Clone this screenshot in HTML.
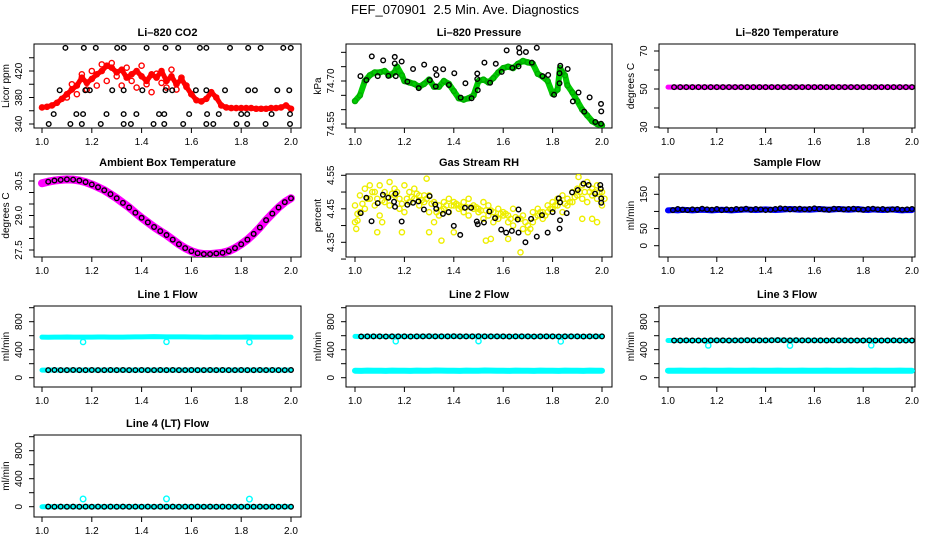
<!DOCTYPE html>
<html><head><meta charset="utf-8"><style>
html,body{margin:0;padding:0;background:#fff;}
svg{display:block;font-family:"Liberation Sans",sans-serif;}
</style></head><body>
<svg id="chart" width="936" height="540" viewBox="0 0 936 540">
<text x="465" y="14" font-size="13" text-anchor="middle" style="white-space:pre">FEF_070901  2.5 Min. Ave. Diagnostics</text>
</svg>
<script>
// ---- data ----
const xTicks = [1.0,1.2,1.4,1.6,1.8,2.0];
const xTickLabels = ["1.0","1.2","1.4","1.6","1.8","2.0"];
const grid51 = [1.00,1.02,1.04,1.06,1.08,1.10,1.12,1.14,1.16,1.18,1.20,1.22,1.24,1.26,1.28,1.30,1.32,1.34,1.36,1.38,1.40,1.42,1.44,1.46,1.48,1.50,1.52,1.54,1.56,1.58,1.60,1.62,1.64,1.66,1.68,1.70,1.72,1.74,1.76,1.78,1.80,1.82,1.84,1.86,1.88,1.90,1.92,1.94,1.96,1.98,2.00];
const grid41 = [1.000,1.025,1.050,1.075,1.100,1.125,1.150,1.175,1.200,1.225,1.250,1.275,1.300,1.325,1.350,1.375,1.400,1.425,1.450,1.475,1.500,1.525,1.550,1.575,1.600,1.625,1.650,1.675,1.700,1.725,1.750,1.775,1.800,1.825,1.850,1.875,1.900,1.925,1.950,1.975,2.000];
// CO2
const co2Red = [365,366,368,372,378,385,392,398,410,402,408,415,420,428,425,418,422,410,415,420,412,405,415,410,420,405,412,400,408,396,385,376,374,378,388,380,368,365,364,364,364,364,364,363,363,363,364,364,365,368,363];
const co2RedBX = [1.10,1.12,1.14,1.16,1.18,1.20,1.22,1.24,1.26,1.28,1.30,1.32,1.34,1.36,1.38,1.40,1.42,1.44,1.46,1.48,1.50,1.52,1.54,1.56,1.58,1.60];
const co2RedB = [380,400,385,415,392,420,398,430,405,432,412,398,425,405,395,428,400,388,416,402,395,422,392,410,398,385];
const co2BlackX = [1.094,1.168,1.216,1.302,1.328,1.42,1.496,1.547,1.634,1.66,1.755,1.828,1.878,1.969,1.999, 1.071,1.174,1.192,1.282,1.328,1.403,1.496,1.523,1.618,1.66,1.735,1.828,1.855,1.945,1.993, 1.047,1.138,1.165,1.259,1.328,1.379,1.47,1.491,1.591,1.663,1.71,1.8,1.824,1.922,1.996, 1.027,1.114,1.16,1.236,1.328,1.357,1.448,1.491,1.567,1.66,1.688,1.781,1.824,1.898,1.996];
const co2BlackY = [455,455,455,455,455,455,455,455,455,455,455,455,455,455,455, 391,391,391,391,391,391,391,391,391,391,391,391,391,391,391, 355,355,355,355,355,355,355,355,355,355,355,355,355,355,355, 340,340,340,340,340,340,340,340,340,340,340,340,340,340,340];
// Pressure
const presGreenX = [1.0,1.02,1.04,1.06,1.08,1.1,1.12,1.14,1.16,1.17,1.19,1.2,1.22,1.24,1.26,1.28,1.3,1.32,1.34,1.36,1.38,1.4,1.42,1.44,1.46,1.48,1.5,1.52,1.54,1.56,1.58,1.6,1.62,1.64,1.66,1.68,1.7,1.72,1.74,1.76,1.78,1.8,1.82,1.83,1.84,1.85,1.86,1.88,1.9,1.92,1.94,1.96,1.98,2.0];
const presGreen = [74.63,74.65,74.70,74.72,74.73,74.73,74.735,74.72,74.73,74.75,74.72,74.70,74.695,74.69,74.68,74.69,74.705,74.68,74.68,74.70,74.69,74.665,74.64,74.635,74.64,74.65,74.70,74.705,74.695,74.71,74.73,74.745,74.75,74.745,74.76,74.77,74.765,74.76,74.725,74.715,74.70,74.655,74.67,74.745,74.73,74.72,74.685,74.66,74.63,74.60,74.58,74.56,74.55,74.545];
const presBlackX = [1.022,1.046,1.068,1.092,1.114,1.135,1.161,1.161,1.165,1.189,1.212,1.235,1.258,1.28,1.303,1.326,1.33,1.327,1.357,1.38,1.402,1.428,1.447,1.472,1.495,1.495,1.497,1.524,1.547,1.57,1.594,1.614,1.637,1.662,1.664,1.666,1.692,1.716,1.736,1.759,1.782,1.806,1.828,1.828,1.831,1.861,1.882,1.905,1.928,1.95,1.973,1.996,1.997,1.996];
const presBlack = [74.717,74.703,74.786,74.717,74.772,74.718,74.784,74.761,74.717,74.768,74.698,74.742,74.675,74.757,74.703,74.742,74.721,74.681,74.741,74.686,74.727,74.642,74.692,74.640,74.726,74.707,74.668,74.764,74.694,74.760,74.732,74.807,74.746,74.751,74.815,74.799,74.801,74.764,74.816,74.717,74.721,74.652,74.692,74.727,74.753,74.742,74.629,74.660,74.593,74.643,74.557,74.620,74.594,74.551];
// Li-820 temperature
const tempMag = [51,51,51,51,51,51,51,51,51,51,51,51,51,51,51,51,51,51,51,51,51,51,51,51,51,51,51,51,51,51,51,51,51,51,51,51,51,51,51,51,51];
// Ambient box temperature
const ambMag = [30.40,30.47,30.52,30.55,30.57,30.56,30.52,30.45,30.35,30.23,30.10,29.93,29.75,29.55,29.35,29.12,28.90,28.70,28.50,28.32,28.15,27.95,27.75,27.58,27.45,27.36,27.32,27.32,27.35,27.38,27.45,27.58,27.75,27.95,28.20,28.48,28.80,29.08,29.35,29.58,29.75];
// Gas stream RH
const rhYellowA = [4.46,4.49,4.51,4.52,4.50,4.52,4.50,4.53,4.51,4.48,4.52,4.50,4.51,4.49,4.47,4.49,4.47,4.46,4.47,4.48,4.47,4.46,4.47,4.48,4.46,4.45,4.47,4.46,4.44,4.45,4.44,4.43,4.45,4.42,4.43,4.40,4.44,4.45,4.44,4.46,4.47,4.48,4.49,4.48,4.50,4.51,4.52,4.53,4.51,4.52,4.50];
const rhYellowB = [4.41,4.44,4.45,4.48,4.46,4.43,4.47,4.46,4.49,4.45,4.44,4.47,4.48,4.46,4.49,4.44,4.41,4.43,4.45,4.44,4.46,4.45,4.44,4.43,4.45,4.44,4.42,4.43,4.41,4.42,4.43,4.41,4.40,4.42,4.39,4.38,4.41,4.43,4.42,4.44,4.45,4.46,4.44,4.46,4.47,4.49,4.48,4.47,4.49,4.48,4.46];
const rhOutX = [1.005,1.01,1.09,1.11,1.19,1.29,1.3,1.35,1.4,1.53,1.55,1.62,1.67,1.96,1.98,1.92,1.905];
const rhOut = [4.39,4.415,4.38,4.41,4.38,4.54,4.38,4.355,4.38,4.355,4.36,4.36,4.32,4.42,4.41,4.42,4.545];
const rhBlackX = [1.023,1.046,1.067,1.092,1.113,1.135,1.158,1.162,1.164,1.189,1.212,1.235,1.257,1.279,1.302,1.325,1.329,1.356,1.379,1.4,1.426,1.445,1.47,1.493,1.497,1.522,1.544,1.567,1.592,1.612,1.635,1.659,1.662,1.662,1.69,1.713,1.736,1.757,1.78,1.8,1.825,1.828,1.83,1.83,1.857,1.879,1.902,1.925,1.946,1.972,1.993,1.995,1.997,1.997];
const rhBlack = [4.437,4.483,4.413,4.467,4.492,4.483,4.471,4.456,4.495,4.412,4.462,4.468,4.472,4.448,4.488,4.463,4.45,4.435,4.44,4.399,4.372,4.453,4.453,4.412,4.404,4.409,4.442,4.422,4.388,4.379,4.384,4.418,4.448,4.379,4.35,4.42,4.367,4.431,4.379,4.44,4.481,4.391,4.416,4.469,4.437,4.499,4.506,4.525,4.521,4.495,4.521,4.51,4.481,4.468];
// Sample flow
const sfBlue = [103,104,103,105,104,103,104,105,104,103,104,105,104,103,104,105,106,105,104,105,106,105,104,105,106,107,106,105,106,105,106,107,106,105,106,107,106,105,106,107,105,104,106,105,104,105,106,104,103,104,104];
const sfBlack = [106,104,107,105,104,106,105,108,106,105,107,104,106,105,107,106,108,105,107,106,104,105,107,109,108,106,107,108,106,107,109,107,106,105,108,107,106,107,108,106,105,107,108,106,107,105,106,107,105,106,107];
// Line flows
const l1CyanHi = [580,578,579,580,581,580,579,580,580,582,581,580,579,580,581,583,584,585,586,585,584,583,584,583,582,581,580,580,581,580,580,579,580,581,580,579,580,580,579,580,579];
const l1Low = [108,109,110,108,109,110,109,108,110,109,108,110,109,110,108,109,110,109,108,110,109,110,108,109,110,109,108,110,109,110,108,109,110,109,108,110,109,110,108,109,110];
const l2Black = [590,589,590,591,590,589,590,591,590,589,590,591,592,591,590,591,592,591,590,591,592,591,590,591,590,589,590,591,590,589,590,591,590,589,590,591,590,589,590,591,590];
const l2CyanLow = [100,98,101,99,100,98,101,99,100,98,101,99,100,102,101,99,100,98,101,99,100,102,101,99,100,98,101,99,100,98,101,99,100,98,101,99,100,98,101,99,100];
const l3Black = [532,531,532,533,532,531,532,533,534,533,532,533,534,535,534,533,534,535,536,535,534,535,534,533,534,533,532,533,534,533,532,531,532,533,532,531,532,533,532,531,532];
const l3CyanLow = [100,99,101,100,100,99,101,100,100,99,101,100,100,99,101,100,100,99,101,100,100,99,101,100,100,99,101,100,100,99,101,100,100,99,101,100,100,99,101,100,100];
const l4Black = [0,1,0,1,0,1,0,1,0,1,0,1,0,1,0,1,0,1,0,1,0,1,0,1,0,1,0,1,0,1,0,1,0,1,0,1,0,1,0,1,0];
const dipX = [1.165,1.5,1.833];
const l1Dip = [510,512,508];
const l2Dip = [520,522,518];
const l3Dip = [460,458,462];
const l4Spike = [110,112,108];

// ---- layout ----
const svg = document.getElementById('chart');
const NS = 'http://www.w3.org/2000/svg';
const cols = [{l:34,r:301,x1:42,x2:291},{l:346,r:612,x1:355,x2:602},{l:659,r:915,x1:668,x2:912}];
const rows = [{t:44,b:128},{t:174,b:257},{t:306,b:387},{t:435,b:517}];
function mk(tag, attrs, parent){const e=document.createElementNS(NS,tag);for(const k in attrs)e.setAttribute(k,attrs[k]);(parent||svg).appendChild(e);return e;}

function panel(name, title, ytitle, col, row, v1, o1, v2, o2, yTicks, yLabels){
  const c=cols[col], r=rows[row];
  const g=mk('g',{});
  
  
  const xs=v=>c.x1+(v-1)*(c.x2-c.x1);
  const ys=v=>r.t+o1+(v-v1)*(o2-o1)/(v2-v1);
  const t=mk('text',{x:(c.l+c.r)/2,y:r.t-8,'font-size':11,'font-weight':'bold','text-anchor':'middle'},g);
  t.textContent=title;
  
  
  const box=mk('rect',{x:c.l,y:r.t,width:c.r-c.l,height:r.b-r.t,fill:'none',stroke:'#000','stroke-width':1},g);
  
  
  const xa=mk('g',{},g);
  
  
  xTicks.forEach((v,i)=>{const x=xs(v);
    mk('line',{x1:x,y1:r.b,x2:x,y2:r.b+5,stroke:'#000'},xa);
    const tl=mk('text',{x:x,y:r.b+17,'font-size':10,'text-anchor':'middle'},xa);tl.textContent=xTickLabels[i];
    
    });
  const ya=mk('g',{},g);
  
  
  yTicks.forEach(v=>{const y=ys(v);mk('line',{x1:c.l-5,y1:y,x2:c.l,y2:y,stroke:'#000'},ya);});
  yLabels.forEach(s=>{const y=ys(parseFloat(s));const tl=mk('text',{x:0,y:0,'font-size':10,'text-anchor':'middle',transform:`translate(${c.l-12},${y}) rotate(-90)`},ya);tl.textContent=s;
    
    });
  const yt=mk('text',{x:0,y:0,'font-size':10,'text-anchor':'middle',transform:`translate(${c.l-25},${(r.t+r.b)/2}) rotate(-90)`},g);yt.textContent=ytitle;
  
  
  const clip='clip-'+name;
  const cp=mk('clipPath',{id:clip},g);mk('rect',{x:c.l,y:r.t,width:c.r-c.l,height:r.b-r.t},cp);
  const dg=mk('g',{'clip-path':`url(#${clip})`},g);
  return {
    band(xArr,yArr,color,w,label){const p=mk('polyline',{points:xArr.map((x,i)=>xs(x)+','+ys(yArr[i])).join(' '),fill:'none',stroke:color,'stroke-width':w,'stroke-linejoin':'round','stroke-linecap':'round'},dg);
      
      },
    pts(xArr,yArr,color,label,r0){const sg=mk('g',{},dg);
      
      
      xArr.forEach((x,i)=>{const ci=mk('circle',{cx:xs(x),cy:ys(yArr[i]),r:r0||2.3,fill:'none',stroke:color,'stroke-width':1.4},sg);
        
        });}
  };
}
const flowTicks=[0,200,400,600,800,1000], flowLabels=["0","400","800"];

let p=panel('co2','Li\u2013820 CO2','Licor ppm',0,0,340,80,420,27,[340,360,380,400,420,440],["340","380","420"]);
p.band(grid51,co2Red,'#f00',5,'co2-red-band');
p.pts(grid51,co2Red,'#f00','co2-red-points',2.6);
p.pts(co2RedBX,co2RedB,'#f00','co2-red-scatter',2.6);
p.pts(co2BlackX,co2BlackY,'#000','co2-black-points');

p=panel('pressure','Li\u2013820 Pressure','kPa',1,0,74.55,80,74.70,37,[74.55,74.60,74.65,74.70,74.75,74.80],["74.55","74.70"]);
p.band(presGreenX,presGreen,'#0c0',6,'pressure-green-band');
p.pts(presGreenX,presGreen,'#0a0','pressure-green-points',2.5);
p.pts(presBlackX,presBlack,'#000','pressure-black-points');

p=panel('li820-temp','Li\u2013820 Temperature','degrees C',2,0,30,83,70,7,[30,40,50,60,70],["30","50","70"]);
p.band(grid41,tempMag,'#f0f',5,'temp-magenta-band');
p.pts(grid41.slice(1),tempMag.slice(1),'#000','temp-black-points');

p=panel('ambient','Ambient Box Temperature','degrees C',0,1,30.5,7,27.5,76,[27.5,28.0,28.5,29.0,29.5,30.0,30.5],["27.5","29.0","30.5"]);
p.band(grid41,ambMag,'#f0f',8,'ambient-magenta-band');
p.pts(grid41.slice(1),ambMag.slice(1),'#000','ambient-black-points');

p=panel('rh','Gas Stream RH','percent',1,1,4.55,1.3,4.35,68.3,[4.30,4.35,4.40,4.45,4.50,4.55],["4.35","4.45","4.55"]);
p.pts(grid51,rhYellowA,'#ee0','rh-yellow-upper',2.6);
p.pts(grid51,rhYellowB,'#ee0','rh-yellow-lower',2.6);
p.pts(grid51.map(v=>v+0.01),rhYellowB.map((v,i)=>(v+rhYellowA[i])/2),'#ee0','rh-yellow-mid',2.6);
p.pts(rhOutX,rhOut,'#ee0','rh-yellow-outliers',2.6);
p.pts(rhBlackX,rhBlack,'#000','rh-black-points');

p=panel('sample-flow','Sample Flow','ml/min',2,1,0,71.7,150,20.3,[0,50,100,150,200],["0","50","150"]);
p.band(grid51,sfBlue,'#00f',6,'sample-flow-blue-band');
p.pts(grid51.slice(1),sfBlack.slice(1),'#000','sample-flow-black-points');

p=panel('line1','Line 1 Flow','ml/min',0,2,0,71.7,800,15.7,flowTicks,flowLabels);
p.band(grid41,l1CyanHi,'#0ff',5,'line1-cyan-high');
p.band(grid41,l1Low,'#0ff',5,'line1-cyan-low');
p.pts(dipX,l1Dip,'#0ff','line1-cyan-dips',2.6);
p.pts(grid41.slice(1),l1Low.slice(1),'#000','line1-black-points');

p=panel('line2','Line 2 Flow','ml/min',1,2,0,71.7,800,15.7,flowTicks,flowLabels);
p.band(grid41,l2CyanLow,'#0ff',6,'line2-cyan-low');
p.band(grid41,l2Black,'#0ff',5,'line2-cyan-high');
p.pts(dipX,l2Dip,'#0ff','line2-cyan-dips',2.6);
p.pts(grid41.slice(1),l2Black.slice(1),'#000','line2-black-points');

p=panel('line3','Line 3 Flow','ml/min',2,2,0,71.7,800,15.7,flowTicks,flowLabels);
p.band(grid41,l3CyanLow,'#0ff',6,'line3-cyan-low');
p.band(grid41,l3Black,'#0ff',5,'line3-cyan-high');
p.pts(dipX,l3Dip,'#0ff','line3-cyan-dips',2.6);
p.pts(grid41.slice(1),l3Black.slice(1),'#000','line3-black-points');

p=panel('line4','Line 4 (LT) Flow','ml/min',0,3,0,71.7,800,15.7,flowTicks,flowLabels);
p.band(grid41,l4Black,'#0ff',5,'line4-cyan-band');
p.pts(dipX,l4Spike,'#0ff','line4-cyan-spikes',2.8);
p.pts(grid41.slice(1),l4Black.slice(1),'#000','line4-black-points');
</script>
</body></html>
